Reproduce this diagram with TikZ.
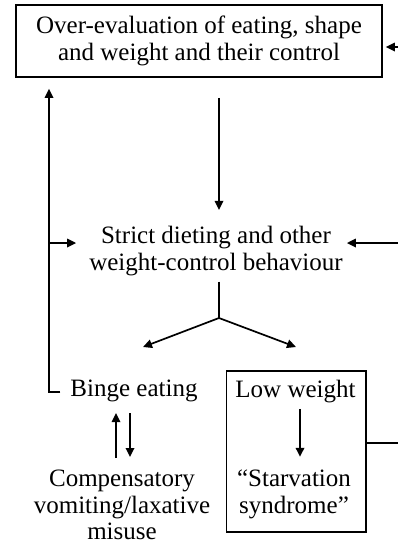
\documentclass[tikz,border=0pt]{standalone}
\usepackage{fontspec}
\setmainfont{Liberation Serif}
\usetikzlibrary{arrows.meta}
\begin{document}
\begin{tikzpicture}[x=1pt,y=-1pt,
  txt/.style={font=\fontsize{25}{26.6}\selectfont,align=center,inner sep=0pt},
  boxed/.style={draw,line width=1.7pt},
  arr/.style={line width=1.7pt,-{Triangle[length=9pt,width=8.5pt]}},
  lin/.style={line width=1.7pt}]

\newcommand\EDGE{398};

  \useasboundingbox (0,0) rectangle (398,547);

  %% boxes and texts
  \node[txt,boxed,minimum width=366pt,minimum height=72pt] (overeval) at (199,41)
  {Over-evaluation of eating, shape\\and weight and their control};
  \node[txt] (dieting) at (216,250.8) {Strict dieting and other\\weight-control behaviour};
  \node[txt] (binge) at (134,391.3) {Binge eating};
  \node[txt] (comp) at (122,505.2) {Compensatory\\vomiting/laxative\\misuse};
  \node[boxed,minimum width=139.5pt,minimum height=161pt] (lowbox) at (296.3,451.5) {};
  \node[txt] (low) at (295.5,391.3) {Low weight};
  \node[txt] (starv) at (294,494.3) {``Starvation\\syndrome''};

  %% points
  \coordinate (rtop) at (\EDGE,47);
  \coordinate (rmid) at (\EDGE,243);
  \coordinate (rlow) at (\EDGE,443);
  \coordinate (corner) at (49,392);
  \coordinate (ljoin) at (49,243);
  \coordinate (split) at (219,318);
  \coordinate (tipL) at (143,347);
  \coordinate (tipR) at (296,347);

  %% connectors
  \draw[arr] (rtop) -- ([xshift=3pt]rtop -| overeval.east);
  \draw[arr] ([yshift=-20pt]overeval.south -| split) -- ([yshift=16pt]dieting.north -| split);
  \draw[arr] (rmid) -- ([xshift=4pt]rmid -| dieting.east);
  \draw[lin] ([yshift=-6pt]dieting.south -| split) -- (split);
  \draw[arr] (split) -- (tipL);
  \draw[arr] (split) -- (tipR);

  \draw[arr] ([xshift=-10pt]binge.west |- corner) -- (corner)
  -- ([yshift=-11pt]corner |- overeval.south); %% back to top
  \draw[arr] (ljoin) -- ([xshift=-13pt]ljoin -| dieting.west);

  \draw[arr] ([xshift=-6pt,yshift=12pt]comp.north) -- ([xshift=-6pt,yshift=57pt]comp.north); %% up
  \draw[arr] ([xshift=8pt,yshift=57pt]comp.north) -- ([xshift=8pt,yshift=13pt]comp.north); %% down

  \draw[arr] ([xshift=4.5pt,yshift=-6pt]low.south) -- ([xshift=4.5pt,yshift=13pt]starv.north -| low.south);
  \draw[lin] (rlow -| lowbox.east) -- (rlow);

\end{tikzpicture}
\end{document}
